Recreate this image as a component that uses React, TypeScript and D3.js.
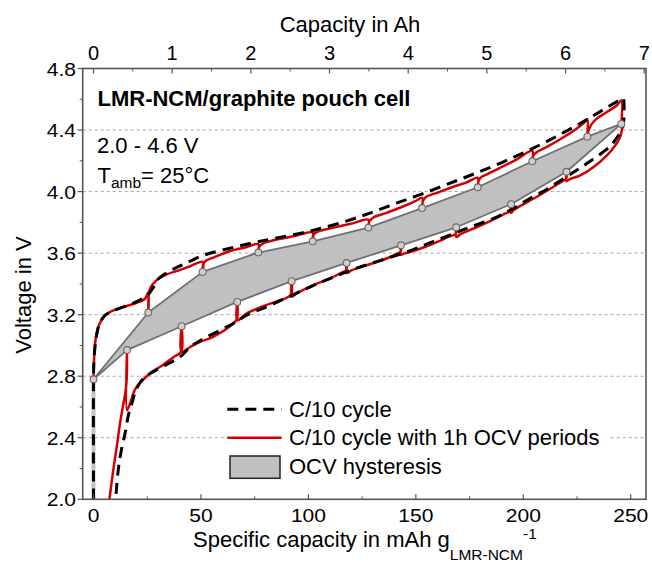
import React from 'react';
import * as d3 from 'd3';

const W = 652;
const H = 563;
const PL = 82.7, PR = 646, PT = 68.5, PB = 499.3;

// Axis ticks
const capTicks = [0, 50, 100, 150, 200, 250];
const capMinorTicks = [25, 75, 125, 175, 225];
const ahTicks = [0, 1, 2, 3, 4, 5, 6, 7];
const ahMinorTicks = [0.5, 1.5, 2.5, 3.5, 4.5, 5.5, 6.5];
const voltTicks = [2.0, 2.4, 2.8, 3.2, 3.6, 4.0, 4.4, 4.8];
const voltMinorTicks = [2.2, 2.6, 3.0, 3.4, 3.8, 4.2, 4.6];
const gridVolts = [2.4, 2.8, 3.2, 3.6, 4.0, 4.4];
const capPerAh = 36.61; // mAh g^-1 per Ah

// C/10 cycle (black dashed)
const c10Charge: [number, number][] = [
  [0, 2.0], [0, 2.78], [0.2, 2.9], [0.7, 2.99], [1.5, 3.07], [3, 3.15], [5.5, 3.197], [9, 3.225],
  [15, 3.255], [20, 3.285], [25, 3.325], [27.5, 3.37], [30, 3.43], [35, 3.48], [40, 3.515], [45, 3.548],
  [51, 3.585], [60, 3.62], [77, 3.675], [96, 3.728], [105, 3.758], [118, 3.81], [129, 3.862],
  [141, 3.925], [153, 3.985], [166, 4.055], [178, 4.12], [191, 4.195], [204, 4.278], [217, 4.37],
  [228, 4.455], [237, 4.53], [243, 4.58], [246.8, 4.6],
];
const c10Discharge: [number, number][] = [
  [246.8, 4.6], [246.8, 4.47], [245.8, 4.40], [243.5, 4.35], [240.5, 4.295], [234, 4.225], [229.5, 4.182],
  [224.8, 4.138], [218.6, 4.084], [211, 4.015], [203, 3.955], [195.3, 3.89], [186, 3.825], [175.3, 3.77],
  [167.5, 3.727], [158, 3.675], [148.8, 3.623], [136.4, 3.565], [124, 3.51], [110, 3.435], [97.6, 3.36],
  [82, 3.26], [71.3, 3.197], [65, 3.143], [57, 3.085], [50, 3.035], [45, 2.99], [40.3, 2.926],
  [32.5, 2.865], [26, 2.815], [22, 2.765], [19.5, 2.70], [17.8, 2.62], [16.3, 2.55], [14.7, 2.43],
  [13.1, 2.33], [11.5, 2.19], [10.3, 2.0],
];

// C/10 cycle with 1h OCV periods (red)
const ocvCharge: [number, number][] = [
  [0, 2.78], [0.2, 2.88], [0.7, 3.01], [2.2, 3.12], [5.4, 3.197], [7.7, 3.218], [13.9, 3.25], [20.1, 3.277], [24, 3.305], [25.5, 3.345],
  [25.5, 3.214], [25.7, 3.33], [26.5, 3.375], [29, 3.42], [33, 3.455], [40, 3.49], [45, 3.515], [50.8, 3.543],
  [50.8, 3.478], [51.1, 3.53], [52.5, 3.552], [56, 3.572], [60, 3.595], [64, 3.615], [70, 3.635], [76.7, 3.658],
  [76.7, 3.604], [77, 3.64], [79, 3.664], [83, 3.68], [87, 3.693], [94, 3.713], [102, 3.734],
  [102, 3.677], [102.3, 3.72], [105.4, 3.745], [110, 3.76], [115, 3.776], [121, 3.795], [127.9, 3.817],
  [127.9, 3.766], [128.2, 3.80], [130.2, 3.832], [136, 3.86], [144, 3.903], [150, 3.94], [152.9, 3.96],
  [152.9, 3.893], [153.3, 3.94], [154.7, 3.965], [160.9, 3.997], [167.2, 4.03], [173.4, 4.058], [178.8, 4.09],
  [178.8, 4.028], [179.2, 4.07], [180.5, 4.095], [183, 4.112], [190, 4.16], [197, 4.21], [204.2, 4.265],
  [204.2, 4.197], [204.7, 4.236], [206.3, 4.257], [211, 4.29], [217.2, 4.34], [223.4, 4.395], [228.1, 4.445], [229.8, 4.47],
  [229.8, 4.357], [230.4, 4.40], [231.9, 4.44], [234.2, 4.474], [238.9, 4.517], [243.6, 4.561], [245.6, 4.593],
  [245.6, 4.44],
];
const ocvDischarge: [number, number][] = [
  [245.6, 4.44], [245.9, 4.41], [245.5, 4.375], [244.7, 4.344], [242.8, 4.30], [238.9, 4.236], [232.7, 4.16], [226.5, 4.105], [221.5, 4.08], [220.1, 4.068],
  [220.1, 4.129], [220.0, 4.085], [218.5, 4.07], [213.9, 4.03], [206.1, 3.965], [198.4, 3.905], [195.5, 3.88], [194.3, 3.862],
  [194.3, 3.918], [194.1, 3.875], [192, 3.86], [185.5, 3.815], [177.7, 3.765], [171, 3.725], [168.8, 3.705],
  [168.8, 3.768], [168.6, 3.725], [166, 3.71], [156.2, 3.651], [148, 3.61], [144.5, 3.597], [143.1, 3.59],
  [143.1, 3.651], [142.9, 3.61], [141, 3.595], [136.4, 3.565], [127.1, 3.521], [120, 3.488], [117.8, 3.471],
  [117.8, 3.536], [117.6, 3.49], [115, 3.47], [110, 3.435], [102.2, 3.392], [94.6, 3.338], [92.2, 3.316],
  [92.2, 3.418], [92.0, 3.33], [89, 3.305], [86.8, 3.294], [79, 3.255], [71.3, 3.208], [66.9, 3.164],
  [66.9, 3.283], [66.7, 3.17], [64, 3.13], [55.7, 3.056], [49.6, 3.023], [45, 2.99], [41.0, 2.958],
  [41.0, 3.125], [40.8, 2.96], [37.2, 2.924], [32.5, 2.875], [28, 2.835], [24.8, 2.80], [20.1, 2.731], [18.5, 2.688], [17.0, 2.623], [15.6, 2.58],
  [15.6, 2.97], [15.5, 2.80], [15.0, 2.71], [13.9, 2.62], [12.3, 2.49], [10.8, 2.34], [9.2, 2.19], [7.4, 2.0],
];

// OCV points (hysteresis)
const ocvChargePoints: [number, number][] = [
  [0, 2.78], [25.5, 3.214], [50.8, 3.478], [76.7, 3.604], [102, 3.677], [127.9, 3.766],
  [152.9, 3.893], [178.8, 4.028], [204.2, 4.197], [229.8, 4.357], [245.6, 4.44],
];
const ocvDischargePoints: [number, number][] = [
  [220.1, 4.129], [194.3, 3.918], [168.8, 3.768], [143.1, 3.651], [117.8, 3.536],
  [92.2, 3.418], [66.9, 3.283], [41.0, 3.125], [15.6, 2.97],
];
const restLine: [number, number][] = [[0, 2.0], [0, 2.78]];

const legendItems = ['C/10 cycle', 'C/10 cycle with 1h OCV periods', 'OCV hysteresis'];

const FONT = 'Liberation Sans, Arial, Helvetica, sans-serif';
const RED = '#d40000';

export default function App() {
  const x = d3.scaleLinear().domain([-5.03, 257.1]).range([PL, PR]);
  const xAh = d3.scaleLinear().domain([-5.03 / capPerAh, 257.1 / capPerAh]).range([PL, PR]);
  const y = d3.scaleLinear().domain([2.0, 4.8]).range([PB, PT]);

  const smooth = d3.line<[number, number]>()
    .x(d => x(d[0])).y(d => y(d[1]))
    .curve(d3.curveCatmullRom.alpha(0.5));
  const straight = d3.line<[number, number]>().x(d => x(d[0])).y(d => y(d[1]));

  const polygon = [...ocvChargePoints, ...ocvDischargePoints];
  const polyPath = straight(polygon) + 'Z';

  return (
    <svg width={W} height={H} style={{ position: 'absolute', left: 0, top: 0, background: '#fff' }} fontFamily={FONT}>
      <rect x={0} y={0} width={W} height={H} fill="#fff" />
      {/* grid */}
      {gridVolts.map(v => (
        <line key={'g' + v} x1={PL} x2={PR} y1={y(v)} y2={y(v)} stroke="#a6a6a6" strokeWidth={1} strokeDasharray="3,3" />
      ))}
      {/* OCV hysteresis */}
      <path d={polyPath} fill="#c0c0c0" stroke="#707070" strokeWidth={1.8} strokeLinejoin="round" />
      <path d={straight(restLine) || ''} stroke="#c4c4c4" strokeWidth={4} fill="none" />
      {/* red curves */}
      <path d={smooth(ocvCharge) || ''} fill="none" stroke={RED} strokeWidth={2.5} strokeLinejoin="round" />
      <path d={smooth(ocvDischarge) || ''} fill="none" stroke={RED} strokeWidth={2.5} strokeLinejoin="round" />
      {/* black dashed */}
      <path d={smooth(c10Charge) || ''} fill="none" stroke="#000" strokeWidth={3} strokeDasharray="11,7" />
      <path d={smooth(c10Discharge) || ''} fill="none" stroke="#000" strokeWidth={3} strokeDasharray="11,7" />
      {/* OCV circles */}
      {polygon.map((p, i) => (
        <circle key={'c' + i} cx={x(p[0])} cy={y(p[1])} r={3.4} fill="#cfcfcf" stroke="#6a6a6a" strokeWidth={1.1} />
      ))}

      {/* frame */}
      <rect x={PL} y={PT} width={PR - PL} height={PB - PT} fill="none" stroke="#555" strokeWidth={1.6} />

      {/* bottom axis */}
      {capTicks.map(t => (
        <g key={'bt' + t}>
          <line x1={x(t)} x2={x(t)} y1={PB} y2={PB - 5} stroke="#555" strokeWidth={1.2} />
          <text transform={`translate(${x(t)},522) scale(1.2,1)`} textAnchor="middle" fontSize={17.5} fill="#000">{t}</text>
        </g>
      ))}
      {capMinorTicks.map(t => (
        <line key={'bm' + t} x1={x(t)} x2={x(t)} y1={PB} y2={PB - 3} stroke="#555" strokeWidth={1} />
      ))}
      {/* top axis */}
      {ahTicks.map(t => (
        <g key={'tt' + t}>
          <line x1={xAh(t)} x2={xAh(t)} y1={PT} y2={PT + 5} stroke="#555" strokeWidth={1.2} />
          <text x={xAh(t)} y={60} textAnchor="middle" fontSize={20} fill="#000">{t}</text>
        </g>
      ))}
      {ahMinorTicks.map(t => (
        <line key={'tm' + t} x1={xAh(t)} x2={xAh(t)} y1={PT} y2={PT + 3} stroke="#555" strokeWidth={1} />
      ))}
      {/* left axis */}
      {voltTicks.map(t => (
        <g key={'lt' + t}>
          <line x1={PL} x2={PL - 5} y1={y(t)} y2={y(t)} stroke="#555" strokeWidth={1.2} />
          <text transform={`translate(76,${y(t) + 7}) scale(1.2,1)`} textAnchor="end" fontSize={17.5} fill="#000">{t.toFixed(1)}</text>
        </g>
      ))}
      {voltMinorTicks.map(t => (
        <line key={'lm' + t} x1={PL} x2={PL - 3} y1={y(t)} y2={y(t)} stroke="#555" strokeWidth={1} />
      ))}

      {/* axis titles */}
      <text x={350} y={32} textAnchor="middle" fontSize={22} fill="#000">Capacity in Ah</text>
      <text transform="translate(31,295) rotate(-90)" textAnchor="middle" fontSize={22} fill="#000">Voltage in V</text>
      <text x={193} y={546.7} fontSize={22} fill="#000">
        Specific capacity in mAh g
        <tspan fontSize={15.5} dy={13}>LMR-NCM</tspan>
        <tspan fontSize={15.5} dy={-21}>-1</tspan>
      </text>

      {/* annotations */}
      <text x={97.5} y={106} fontSize={22} fontWeight="bold" fill="#000">LMR-NCM/graphite pouch cell</text>
      <text x={97} y={153.3} fontSize={22} fill="#000">2.0 - 4.6 V</text>
      <text x={97.5} y={182.7} fontSize={22} fill="#000">
        T<tspan fontSize={15.5} dy={5.5}>amb</tspan><tspan dy={-5.5}>= 25°C</tspan>
      </text>

      {/* legend */}
      <rect x={224} y={398} width={386} height={84} fill="#fff" />
      <line x1={227.3} x2={281.7} y1={409.3} y2={409.3} stroke="#000" strokeWidth={3} strokeDasharray="11,7" />
      <line x1={227.3} x2={281.7} y1={437.7} y2={437.7} stroke={RED} strokeWidth={2.5} />
      <rect x={230} y={456} width={50} height={22.3} fill="#c0c0c0" stroke="#222" strokeWidth={1.5} />
      {legendItems.map((s, i) => (
        <text key={s} x={289} y={416.7 + i * 28.5} fontSize={22} fill="#000">{s}</text>
      ))}
    </svg>
  );
}
